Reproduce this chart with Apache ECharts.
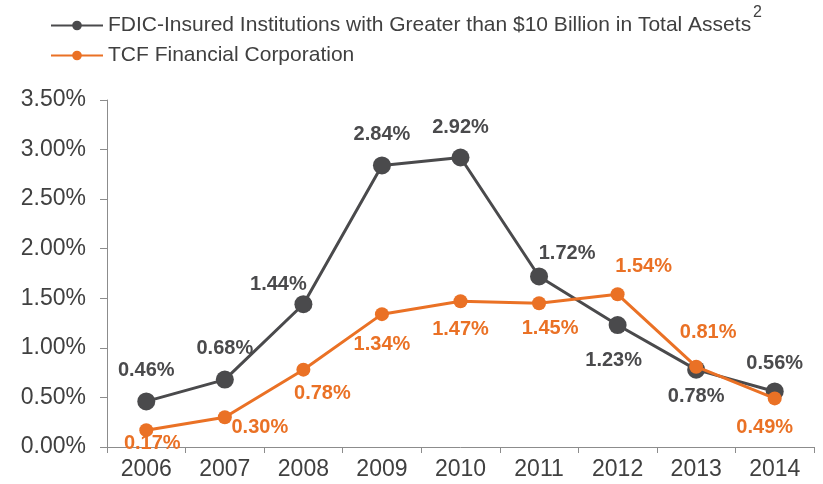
<!DOCTYPE html>
<html>
<head>
<meta charset="utf-8">
<script src="https://cdn.jsdelivr.net/npm/echarts@6/dist/echarts.min.js"></script>
<style>
    html, body { margin: 0; padding: 0; background: #fff; }
    #main { width: 823px; height: 484px; }
</style>
</head>
<body>
<div id="main"></div>
<script>
// data
var years = ['2006', '2007', '2008', '2009', '2010', '2011', '2012', '2013', '2014'];
var fdicValues = [0.46, 0.68, 1.44, 2.84, 2.92, 1.72, 1.23, 0.78, 0.56];
var tcfValues = [0.17, 0.30, 0.78, 1.34, 1.47, 1.45, 1.54, 0.81, 0.49];
var fdicName = 'FDIC-Insured Institutions with Greater than $10 Billion in Total Assets';
var tcfName = 'TCF Financial Corporation';

// where each value label sits relative to its point (layout only)
var fdicLabelOffsets = [[0, -31], [0, -31], [-25, -20], [0, -31], [0, -30], [28, -23], [-4, 35], [0, 27], [0, -28]];
var tcfLabelOffsets = [[6, 13], [35, 10], [19, 24], [0, 30], [0, 28], [11, 25], [26, -28], [12, -34], [-10, 29]];

var gray = '#4a4a4c';
var orange = '#ea7125';
var font = 'Liberation Sans, Arial, sans-serif';

function withLabels(values, offsets) {
    var out = [];
    for (var i = 0; i < values.length; i++) {
        out.push({
            value: values[i],
            label: {
                offset: offsets[i]
            }
        });
    }
    return out;
}

function pct(v) {
    return v.toFixed(2) + '%';
}

var myChart = echarts.init(document.getElementById('main'));
var option = {
    animation: false,
    textStyle: { fontFamily: font },
    legend: {
        orient: 'vertical',
        left: 45,
        top: 10,
        itemWidth: 52,
        itemHeight: 12,
        itemGap: 9,
        data: [fdicName, tcfName],
        textStyle: {
            fontSize: 21,
            color: '#404040',
            fontFamily: font
        }
    },
    graphic: [{
        type: 'text',
        left: 753,
        top: 5,
        style: {
            text: '2',
            fontSize: 16,
            fill: '#404040',
            fontFamily: font
        }
    }],
    grid: {
        left: 107,
        right: 9,
        top: 100,
        bottom: 37
    },
    xAxis: {
        type: 'category',
        data: years,
        boundaryGap: true,
        axisLine: { show: true, lineStyle: { color: '#8c8c8c', width: 1 } },
        axisTick: { show: true, length: 6, lineStyle: { color: '#8c8c8c' } },
        axisLabel: {
            color: '#404040',
            fontSize: 23,
            margin: 11,
            fontFamily: font
        },
        splitLine: { show: false }
    },
    yAxis: {
        type: 'value',
        min: 0,
        max: 3.5,
        interval: 0.5,
        axisLine: { show: true, lineStyle: { color: '#8c8c8c', width: 1 } },
        axisTick: { show: true, length: 7, lineStyle: { color: '#8c8c8c' } },
        axisLabel: {
            color: '#404040',
            fontSize: 23,
            margin: 21,
            fontFamily: font,
            formatter: function (v) { return pct(v); }
        },
        splitLine: { show: false }
    },
    series: [{
        name: fdicName,
        type: 'line',
        data: withLabels(fdicValues, fdicLabelOffsets),
        symbol: 'circle',
        symbolSize: 18,
        lineStyle: { color: gray, width: 3 },
        itemStyle: { color: gray },
        label: {
            show: true,
            position: 'inside',
            color: gray,
            fontSize: 20,
            fontWeight: 'bold',
            fontFamily: font,
            formatter: function (p) { return pct(p.value); }
        },
        z: 2
    }, {
        name: tcfName,
        type: 'line',
        data: withLabels(tcfValues, tcfLabelOffsets),
        symbol: 'circle',
        symbolSize: 14,
        lineStyle: { color: orange, width: 3 },
        itemStyle: { color: orange },
        label: {
            show: true,
            position: 'inside',
            color: orange,
            fontSize: 20,
            fontWeight: 'bold',
            fontFamily: font,
            formatter: function (p) { return pct(p.value); }
        },
        z: 3
    }]
};
myChart.setOption(option);
</script>
</body>
</html>
